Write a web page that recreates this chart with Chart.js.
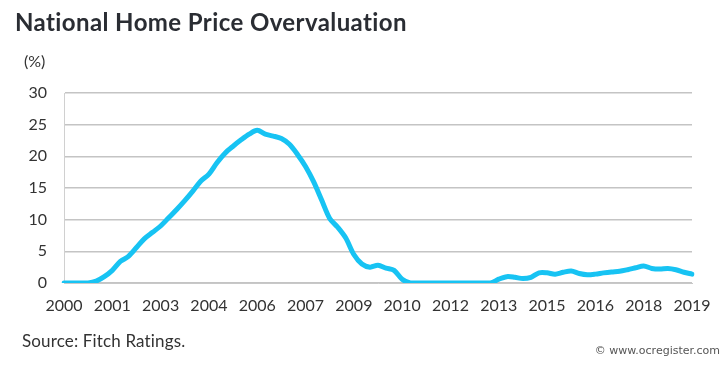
<!DOCTYPE html>
<html>
<head>
<meta charset="utf-8">
<script src="https://cdn.jsdelivr.net/npm/chart.js@4/dist/chart.umd.min.js"></script>
<style>
  html, body { margin: 0; padding: 0; background: #fff; }
  body { width: 725px; height: 366px; position: relative; overflow: hidden; font-family: Lato, "Open Sans", sans-serif; }
  #c { position: absolute; left: 0; top: 0; }
  .t { position: absolute; white-space: nowrap; }
  #title { left: 15px; top: 7px; font-size: 24px; font-weight: bold; color: #2a2d33; letter-spacing: 0.4px; }
  #unit { left: 24px; top: 51px; font-size: 16px; color: #333; }
  #source { left: 22px; top: 330px; font-size: 17px; color: #333; letter-spacing: 0.15px; }
  #credit { right: 5px; top: 344px; font-size: 11px; color: #555; font-family: Verdana, "DejaVu Sans", sans-serif; }
</style>
</head>
<body>
<canvas id="c" width="725" height="366"></canvas>
<div class="t" id="title">National Home Price Overvaluation</div>
<div class="t" id="unit">(%)</div>
<div class="t" id="source">Source: Fitch Ratings.</div>
<div class="t" id="credit">© www.ocregister.com</div>
<script>
// Quarterly categories, 2000 Q1 .. 2019 Q3
const quarters = [];
for (let y = 2000; y <= 2019; y++) {
  for (let q = 1; q <= 4; q++) {
    if (y === 2019 && q > 3) break;
    quarters.push(y + ' Q' + q);
  }
}
// Tick labels shown every 6th quarter
const xTickLabels = ['2000','2001','2003','2004','2006','2007','2009','2010','2012','2013','2015','2016','2018','2019'];
const yTicks = [0, 5, 10, 15, 20, 25, 30];
// Overvaluation (%)
const overvaluation = [
  0, 0, 0, 0, 0.3, 1.0, 2.0, 3.4, 4.2, 5.6,
  7.0, 8.0, 9.0, 10.3, 11.6, 13.0, 14.5, 16.1, 17.2, 19.0,
  20.5, 21.6, 22.6, 23.5, 24.1, 23.5, 23.2, 22.8, 21.9, 20.3,
  18.4, 16.0, 13.1, 10.2, 8.8, 7.1, 4.5, 3.0, 2.5, 2.8,
  2.35, 2.0, 0.6, 0, 0, 0, 0, 0, 0, 0,
  0, 0, 0, 0, 0.6, 1.0, 0.9, 0.7, 0.9, 1.6,
  1.6, 1.4, 1.7, 1.9, 1.5, 1.3, 1.4, 1.6, 1.75, 1.85,
  2.1, 2.4, 2.7, 2.3, 2.2, 2.3, 2.1, 1.7, 1.4
];

new Chart(document.getElementById('c'), {
  type: 'line',
  data: {
    labels: quarters,
    datasets: [{
      data: overvaluation,
      borderColor: '#17c3f3',
      borderWidth: 5,
      pointRadius: 0,
      tension: 0.3,
      fill: false,
      borderCapStyle: 'round',
      borderJoinStyle: 'round'
    }]
  },
  options: {
    responsive: false,
    animation: false,
    layout: { padding: { top: 93, right: 33, left: 0, bottom: 0 } },
    plugins: { legend: { display: false }, tooltip: { enabled: false }, title: { display: false } },
    scales: {
      x: {
        offset: false,
        grid: { display: false, drawTicks: false },
        border: { display: true, color: '#c8c8c8', width: 1 },
        afterFit: (s) => { s.height = 83; },
        ticks: {
          autoSkip: false,
          maxRotation: 0,
          minRotation: 0,
          padding: 13,
          color: '#333',
          font: { family: 'Lato', size: 16 },
          callback: (v, i) => (i % 6 === 0 ? xTickLabels[i / 6] : '')
        }
      },
      y: {
        min: 0,
        max: 30,
        afterFit: (s) => { s.width = 64; },
        afterBuildTicks: (s) => { s.ticks = yTicks.map(v => ({ value: v })); },
        grid: { color: '#c4c4c4', lineWidth: 1.5, drawTicks: false },
        border: { display: true, color: '#d0d0d0', width: 1 },
        ticks: {
          padding: 17,
          color: '#333',
          font: { family: 'Lato', size: 16 }
        }
      }
    }
  }
});
</script>
</body>
</html>
